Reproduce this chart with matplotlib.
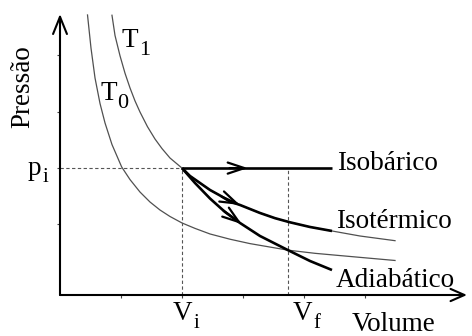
import numpy as np
import matplotlib.pyplot as plt

plt.rcParams['font.family'] = ['Liberation Serif', 'DejaVu Serif']

# Values (volume and pressure in tick units)
t1_v = [0.852, 0.902, 0.984, 1.066, 1.148, 1.230, 1.311, 1.434, 1.557, 1.672,
        1.803, 2.0, 2.131, 2.295, 2.459, 2.623, 2.787, 2.951, 3.279, 3.525,
        3.770, 4.098, 4.459, 4.918, 5.492]
t1_p = [4.96, 4.60, 4.24, 3.931, 3.67, 3.440, 3.245, 2.984, 2.766, 2.596,
        2.429, 2.25, 2.110, 1.986, 1.862, 1.764, 1.656, 1.596, 1.454, 1.362,
        1.289, 1.206, 1.135, 1.046, 0.963]

t0_v = [0.451, 0.508, 0.574, 0.656, 0.738, 0.852, 1.011, 1.148, 1.311, 1.475,
        1.639, 1.803, 2.0, 2.213, 2.459, 2.787, 3.115, 3.738, 4.180, 4.590,
        5.492]
t0_p = [4.965, 4.379, 3.848, 3.395, 3.050, 2.668, 2.270, 2.046, 1.826, 1.649,
        1.507, 1.392, 1.277, 1.181, 1.082, 0.989, 0.911, 0.795, 0.739, 0.699,
        0.612]

adiab_v = [2.0, 2.098, 2.213, 2.459, 2.705, 2.951, 3.279, 3.738, 4.098, 4.459]
adiab_p = [2.25, 2.128, 1.986, 1.711, 1.472, 1.277, 1.046, 0.795, 0.603, 0.443]

v_i, v_f, p_i = 2.0, 3.738, 2.25
v_end = 4.459  # where the thick process curves stop

x_ticks = [1, 2, 3, 4, 5]
y_ticks = [1.25, 2.25, 3.25, 4.25]

fig = plt.figure(figsize=(4.72, 3.36), dpi=100)
ax = fig.add_axes([60 / 472, 41 / 336, 407 / 472, 281 / 336])
ax.set_xlim(0, 6.672)
ax.set_ylim(0, 4.982)
for s in ax.spines.values():
    s.set_visible(False)
ax.set_xticks(x_ticks)
ax.set_yticks(y_ticks)
ax.set_xticklabels([])
ax.set_yticklabels([])
ax.tick_params(direction='out', length=2.5, width=0.8, color='#444444')

thin = dict(color='#505050', lw=0.9, clip_on=False)
thick = dict(color='black', lw=1.9, clip_on=False, solid_capstyle='butt')
dash = dict(color='#555555', lw=0.8, dashes=(3, 2.2))

# isotherms
ax.plot(t1_v, t1_p, **thin)
ax.plot(t0_v, t0_p, **thin)

# guide lines
ax.plot([0, v_i], [p_i, p_i], **dash)
ax.plot([v_i, v_i], [0, p_i], **dash)
ax.plot([v_f, v_f], [0, p_i], **dash)

# processes
iso_v = [v for v in t1_v if v_i <= v <= v_end]
iso_p = [p for v, p in zip(t1_v, t1_p) if v_i <= v <= v_end]
ax.plot([v_i, v_end], [p_i, p_i], **thick)
ax.plot(iso_v, iso_p, **thick)
ax.plot(adiab_v, adiab_p, **thick)


def chevron(vs, ps, v_tip):
    p_tip = np.interp(v_tip, vs, ps)
    v0 = v_tip - 0.3
    p0 = np.interp(v0, vs, ps)
    ax.annotate('', xy=(v_tip, p_tip), xytext=(v0, p0),
                arrowprops=dict(arrowstyle='->,head_length=0.6,head_width=0.2',
                                lw=1.6, color='black', mutation_scale=20,
                                shrinkA=0, shrinkB=0))


chevron([v_i, v_end], [p_i, p_i], 3.08)
chevron(iso_v, iso_p, 2.95)
chevron(adiab_v, adiab_p, 2.98)

# axes with open arrowheads
ax.annotate('', xy=(6.672, 0), xytext=(0, 0), annotation_clip=False,
            arrowprops=dict(arrowstyle='->,head_length=0.5,head_width=0.22',
                            lw=1.5, color='black', mutation_scale=20,
                            shrinkA=0, shrinkB=0))
ax.annotate('', xy=(0, 4.982), xytext=(0, 0), annotation_clip=False,
            arrowprops=dict(arrowstyle='->,head_length=0.62,head_width=0.25',
                            lw=1.5, color='black', mutation_scale=20,
                            shrinkA=0, shrinkB=0))

fs = 19.5
kw = dict(fontsize=fs, clip_on=False)


def label(v, p, main, sub, sub_size, drop):
    t = ax.text(v, p, main, ha='left', va='baseline', **kw)
    ax.annotate(sub, xy=(1, 0), xycoords=t, xytext=(0.5, -drop),
                textcoords='offset points', ha='left', va='bottom',
                fontsize=sub_size, annotation_clip=False)


ax.text(4.54, 2.216, 'Isobárico', ha='left', va='baseline', **kw)
ax.text(4.525, 1.188, 'Isotérmico', ha='left', va='baseline', **kw)
ax.text(4.525, 0.147, 'Adiabático', ha='left', va='baseline', **kw)
ax.text(5.46, -0.64, 'Volume', ha='center', va='baseline', **kw)
ax.text(-0.61, 3.69, 'Pressão', ha='center', va='center', rotation=90, **kw)

label(1.85, -0.443, 'V', 'i', 15, 5)
label(3.82, -0.443, 'V', 'f', 15, 5)
label(-0.525, 2.128, 'p', 'i', 15, 4)
label(1.016, 4.40, 'T', '1', 16, 5)
label(0.656, 3.457, 'T', '0', 16, 5)

fig.savefig('out.png', dpi=100)
